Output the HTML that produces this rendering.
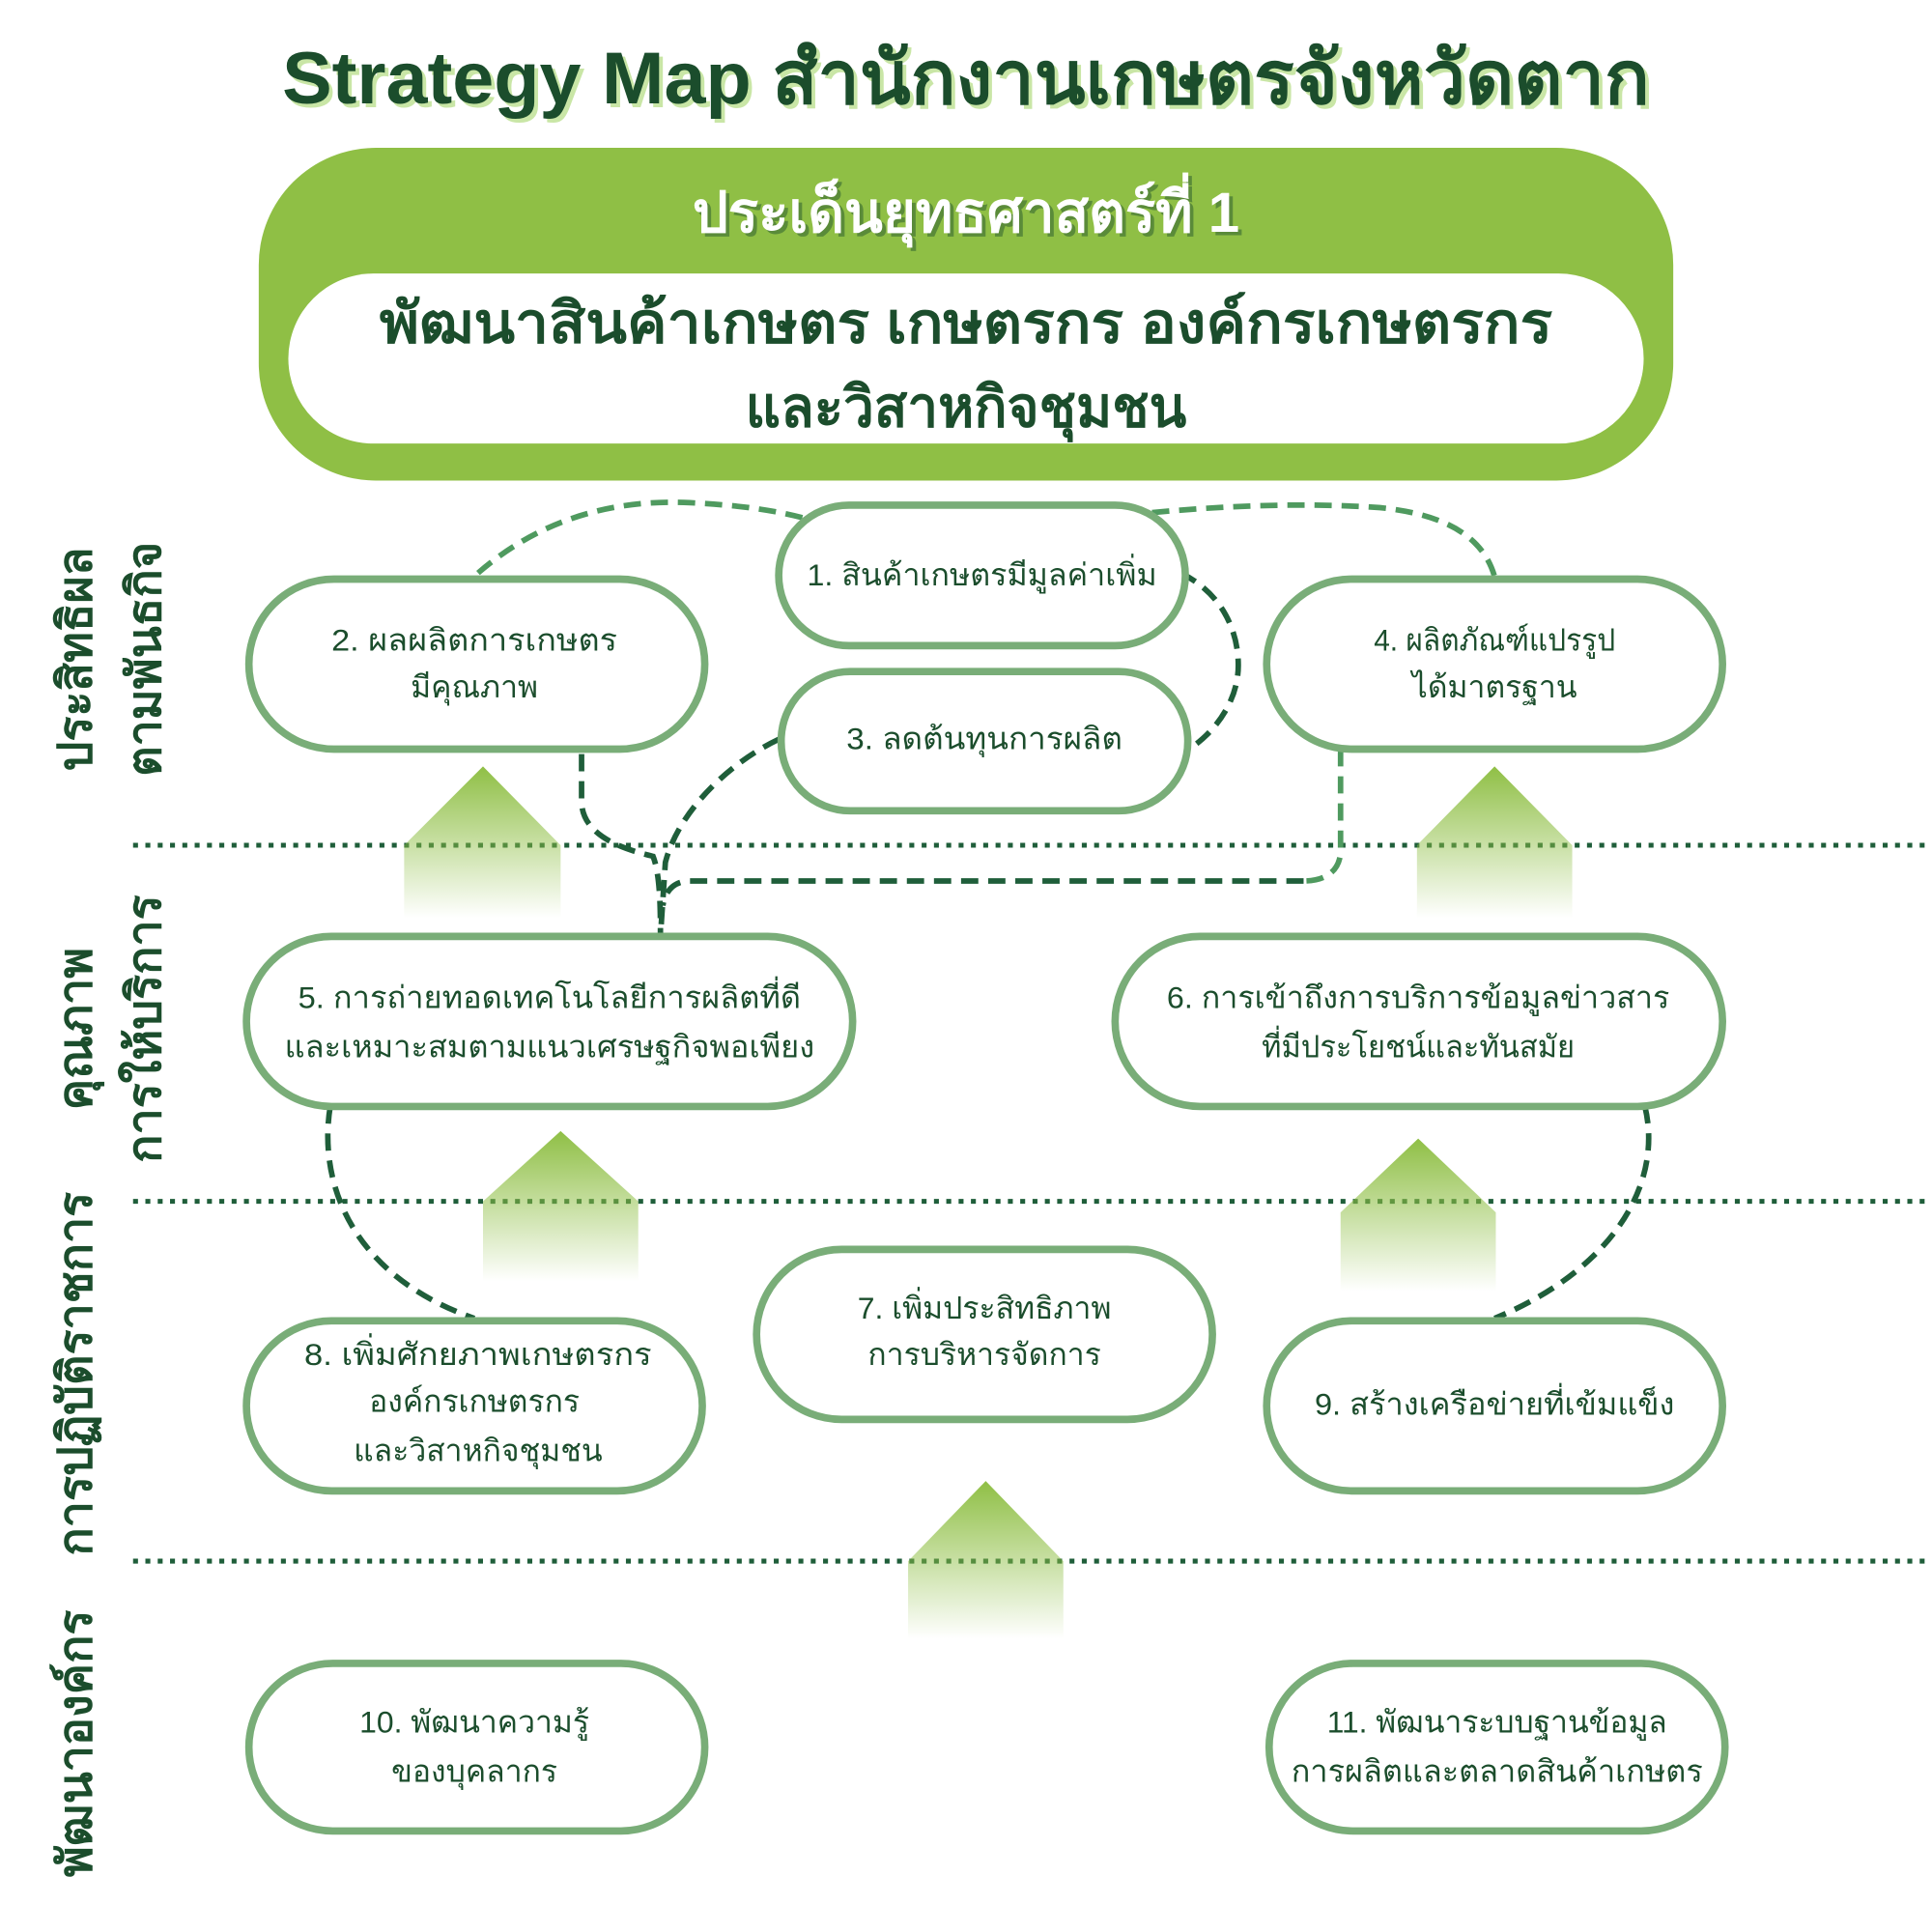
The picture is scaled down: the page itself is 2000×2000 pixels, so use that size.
<!DOCTYPE html>
<html><head><meta charset="utf-8">
<style>
html,body{margin:0;padding:0;background:#fff;}
svg{display:block;}
text{font-family:"Liberation Sans","Noto Sans CJK SC",sans-serif;}
</style></head>
<body>
<svg width="2000" height="2000" viewBox="0 0 1568 1568" xmlns="http://www.w3.org/2000/svg">
<defs>
<linearGradient id="ag" x1="0" y1="0" x2="0" y2="1">
<stop offset="0" stop-color="#8fbf45"/>
<stop offset="1" stop-color="#8fbf45" stop-opacity="0"/>
</linearGradient>
</defs>
<rect width="1568" height="1568" fill="#fff"/>
<!-- title -->
<text x="787" y="87" text-anchor="middle" font-size="60" font-weight="bold" fill="#c9e6a6" textLength="1110" lengthAdjust="spacingAndGlyphs">Strategy Map สำนักงานเกษตรจังหวัดตาก</text>
<text x="784" y="84" text-anchor="middle" font-size="60" font-weight="bold" fill="#1b4d2c" textLength="1110" lengthAdjust="spacingAndGlyphs">Strategy Map สำนักงานเกษตรจังหวัดตาก</text>
<!-- header box -->
<rect x="210" y="120" width="1148" height="270" rx="95" fill="#8fbf45"/>
<text x="787" y="191" text-anchor="middle" font-size="46" font-weight="bold" fill="#1b4d2c" opacity="0.45" textLength="444" lengthAdjust="spacingAndGlyphs">ประเด็นยุทธศาสตร์ที่ 1</text>
<text x="784" y="188" text-anchor="middle" font-size="46" font-weight="bold" fill="#fff" textLength="444" lengthAdjust="spacingAndGlyphs">ประเด็นยุทธศาสตร์ที่ 1</text>
<rect x="234" y="222" width="1100" height="138" rx="69" fill="#fff"/>
<text x="784" y="278" text-anchor="middle" font-size="46" font-weight="bold" fill="#1b4d2c" textLength="952" lengthAdjust="spacingAndGlyphs">พัฒนาสินค้าเกษตร เกษตรกร องค์กรเกษตรกร</text>
<text x="784" y="346" text-anchor="middle" font-size="46" font-weight="bold" fill="#1b4d2c" textLength="358" lengthAdjust="spacingAndGlyphs">และวิสาหกิจชุมชน</text>
<!-- dotted lines -->
<g stroke="#1f5e3a" stroke-width="4" stroke-dasharray="4 6">
<line x1="108" y1="686" x2="1568" y2="686"/>
<line x1="108" y1="975" x2="1568" y2="975"/>
<line x1="108" y1="1267" x2="1568" y2="1267"/>
</g>
<!-- arrows -->
<g fill="url(#ag)">
<polygon points="392,622 455,686 455,745 328,745 328,686"/>
<polygon points="1213,622 1276,686 1276,745 1150,745 1150,686"/>
<polygon points="455,918 518,975 518,1040 392,1040 392,975"/>
<polygon points="1151,924 1214,984 1214,1048 1088,1048 1088,984"/>
<polygon points="800,1202 863,1267 863,1330 737,1330 737,1267"/>
</g>
<!-- connectors -->
<g fill="none" stroke-width="4.5" stroke-dasharray="14 8">
<path d="M388,465 C440,420 500,405 560,408 C600,410 630,414 658,422" stroke="#4f9a5f"/>
<path d="M935,416 C1000,410 1060,408 1120,412 C1180,418 1205,440 1213,468" stroke="#4f9a5f"/>
<path d="M958,465 C990,480 1005,510 1005,540 C1005,570 985,595 965,608" stroke="#1f5e3a"/>
<path d="M472,612 L472,650 C472,680 510,690 530,695 C536,710 536,740 536,760" stroke="#1f5e3a"/>
<path d="M632,600 C590,620 550,660 540,700 L536,760" stroke="#1f5e3a"/>
<path d="M1088,608 L1088,690 C1088,705 1078,715 1058,715" stroke="#4f9a5f"/>
<path d="M1058,715 L560,715 C548,715 540,722 538,735" stroke="#1f5e3a"/>
<path d="M268,898 C258,960 285,1035 385,1070" stroke="#1f5e3a"/>
<path d="M1335,898 C1350,960 1310,1030 1213,1070" stroke="#1f5e3a"/>
</g>
<!-- nodes -->
<g fill="#fff" stroke="#79ad78" stroke-width="6">
<rect x="632" y="410" width="330" height="114" rx="57"/>
<rect x="202" y="470" width="370" height="138" rx="69"/>
<rect x="634" y="545" width="330" height="113" rx="56"/>
<rect x="1028" y="470" width="370" height="138" rx="69"/>
<rect x="200" y="760" width="492" height="138" rx="69"/>
<rect x="905" y="760" width="493" height="138" rx="69"/>
<rect x="614" y="1014" width="370" height="138" rx="69"/>
<rect x="200" y="1072" width="370" height="138" rx="69"/>
<rect x="1028" y="1072" width="370" height="138" rx="69"/>
<rect x="202" y="1350" width="370" height="136" rx="68"/>
<rect x="1030" y="1350" width="370" height="136" rx="68"/>
</g>
<g font-size="25" fill="#1b4d2c" text-anchor="middle">
<text x="797" y="475" textLength="284" lengthAdjust="spacingAndGlyphs">1. สินค้าเกษตรมีมูลค่าเพิ่ม</text>
<text x="385" y="528" textLength="232" lengthAdjust="spacingAndGlyphs">2. ผลผลิตการเกษตร</text>
<text x="385" y="566">มีคุณภาพ</text>
<text x="799" y="608" textLength="224" lengthAdjust="spacingAndGlyphs">3. ลดต้นทุนการผลิต</text>
<text x="1213" y="528" textLength="196" lengthAdjust="spacingAndGlyphs">4. ผลิตภัณฑ์แปรรูป</text>
<text x="1213" y="566">ได้มาตรฐาน</text>
<text x="446" y="818" textLength="408" lengthAdjust="spacingAndGlyphs">5. การถ่ายทอดเทคโนโลยีการผลิตที่ดี</text>
<text x="446" y="858" textLength="430" lengthAdjust="spacingAndGlyphs">และเหมาะสมตามแนวเศรษฐกิจพอเพียง</text>
<text x="1151" y="818" textLength="408" lengthAdjust="spacingAndGlyphs">6. การเข้าถึงการบริการข้อมูลข่าวสาร</text>
<text x="1151" y="858" textLength="254" lengthAdjust="spacingAndGlyphs">ที่มีประโยชน์และทันสมัย</text>
<text x="799" y="1070">7. เพิ่มประสิทธิภาพ</text>
<text x="799" y="1108">การบริหารจัดการ</text>
<text x="388" y="1108" textLength="282" lengthAdjust="spacingAndGlyphs">8. เพิ่มศักยภาพเกษตรกร</text>
<text x="385" y="1146">องค์กรเกษตรกร</text>
<text x="388" y="1186">และวิสาหกิจชุมชน</text>
<text x="1213" y="1148" textLength="292" lengthAdjust="spacingAndGlyphs">9. สร้างเครือข่ายที่เข้มแข็ง</text>
<text x="385" y="1406">10. พัฒนาความรู้</text>
<text x="385" y="1446">ของบุคลากร</text>
<text x="1215" y="1406" textLength="276" lengthAdjust="spacingAndGlyphs">11. พัฒนาระบบฐานข้อมูล</text>
<text x="1215" y="1446" textLength="334" lengthAdjust="spacingAndGlyphs">การผลิตและตลาดสินค้าเกษตร</text>
</g>
<!-- side labels -->
<g font-size="38" font-weight="bold" fill="#1b4d2c" text-anchor="middle">
<text transform="translate(74,535) rotate(-90)">ประสิทธิผล</text>
<text transform="translate(130,535) rotate(-90)">ตามพันธกิจ</text>
<text transform="translate(74,835) rotate(-90)">คุณภาพ</text>
<text transform="translate(130,835) rotate(-90)">การให้บริการ</text>
<text transform="translate(74,1115) rotate(-90)">การปฏิบัติราชการ</text>
<text transform="translate(74,1415) rotate(-90)">พัฒนาองค์กร</text>
</g>
</svg>
</body></html>
